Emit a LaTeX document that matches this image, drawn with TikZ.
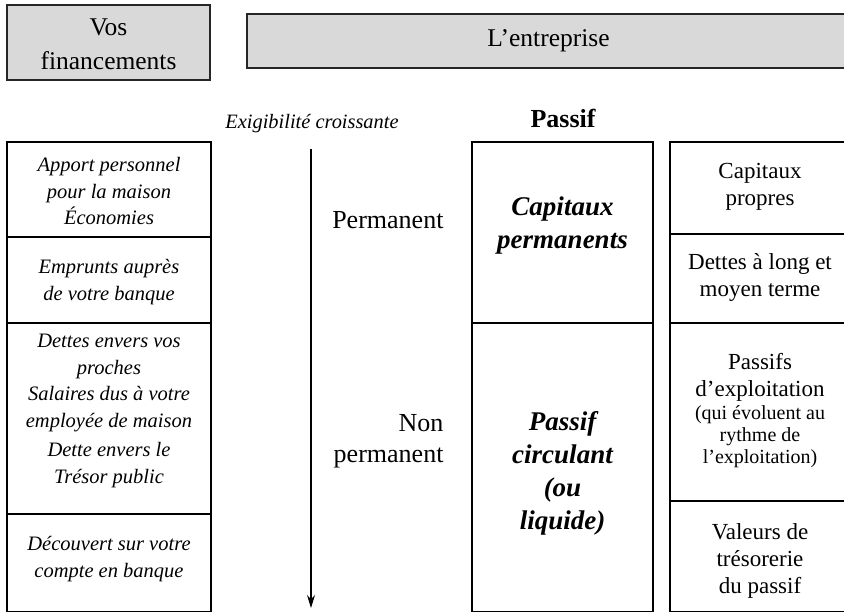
\documentclass[tikz,border=0pt]{standalone}
\usepackage{fontspec}
\setmainfont{Liberation Serif}
\usetikzlibrary{arrows.meta}
\definecolor{headgray}{HTML}{D9D9D9}
\newcommand{\fsz}[2]{\fontsize{#1}{#2}\selectfont}
\newcommand{\smalltxt}{\fsz{20}{22}}
\begin{document}
\begin{tikzpicture}[x=1pt,y=-1pt,
  headbox/.style={fill=headgray, draw=black!85, line width=1.3pt},
  thickcell/.style={draw=black, line width=2.4pt},
  thincell/.style={draw=black, line width=1.1pt},
  headtxt/.style={align=center, font=\fsz{25.5}{34}},
  lefttxt/.style={align=center, font=\fsz{20.5}{26.5}\itshape},
  midtxt/.style={align=center, font=\fsz{27}{33}\bfseries\itshape},
  righttxt/.style={align=center, font=\fsz{23}{27}},
  sidetxt/.style={align=right, font=\fsz{26}{31}},
  flow/.style={line width=1.1pt, -{Stealth[length=13pt, width=8pt]}}]
\useasboundingbox (0,0) rectangle (844,611);
\clip (0,0) rectangle (844,611);

% header boxes
\draw[headbox] (7,5) rectangle (210,80);
\draw[headbox] (247,14) rectangle (850,68);
\node[headtxt] (vos) at (108.5,44) {Vos\\financements};
\node[headtxt] (ent) at (548.5,41) {L’entreprise};

% column titles
\node[font=\fsz{20.4}{24}\itshape, anchor=base] (exig) at (312,128) {Exigibilité croissante};
\node[font=\fsz{26}{30}\bfseries, anchor=base] (passif) at (563,127) {Passif};

% left column: household financing
\draw[thickcell] (7,142) rectangle (211,612);
\draw[thickcell] (7,237) -- (211,237);
\draw[thickcell] (7,323) -- (211,323);
\draw[thickcell] (7,514) -- (211,514);
\node[lefttxt] (l1) at (109,191) {Apport personnel\\pour la maison\\Économies};
\node[lefttxt] (l2) at (109,282) {Emprunts auprès\\de votre banque};
\node[lefttxt] (l3) at (109,411) {Dettes envers vos\\proches\\Salaires dus à votre\\employée de maison\\[3pt]Dette envers le\\Trésor public};
\node[lefttxt] (l4) at (109,559) {Découvert sur votre\\compte en banque};

% increasing-liability arrow
\coordinate (atop) at (311,149);
\coordinate (abot) at (311,608);
\draw[flow] (atop) -- (abot);

% permanence labels
\node[sidetxt, anchor=base east] (perm) at (447,228) {Permanent};
\node[sidetxt, anchor=base east] (nonperm) at (447,462) {Non\\permanent};

% middle column: liability groups
\draw[thickcell] (472,142) rectangle (653,612);
\draw[thickcell] (472,323) -- (653,323);
\node[midtxt] (m1) at (562.5,226) {Capitaux\\permanents};
\node[midtxt] (m2) at (562.5,473) {Passif\\circulant\\(ou\\liquide)};

% right column: liability items
\draw[thincell] (670,142) rectangle (852,612);
\draw[thincell] (670,234) -- (852,234);
\draw[thincell] (670,323) -- (852,323);
\draw[thincell] (670,501) -- (852,501);
\node[righttxt] (r1) at (760,187) {Capitaux\\propres};
\node[righttxt] (r2) at (760,277) {Dettes à long et\\moyen terme};
\node[righttxt] (r3) at (760,411) {Passifs\\d’exploitation\\[-4pt]\smalltxt(qui évoluent au\\[-5pt]\smalltxt rythme de\\[-5pt]\smalltxt l’exploitation)};
\node[righttxt] (r4) at (760,561) {Valeurs de\\trésorerie\\du passif};
\end{tikzpicture}
\end{document}
